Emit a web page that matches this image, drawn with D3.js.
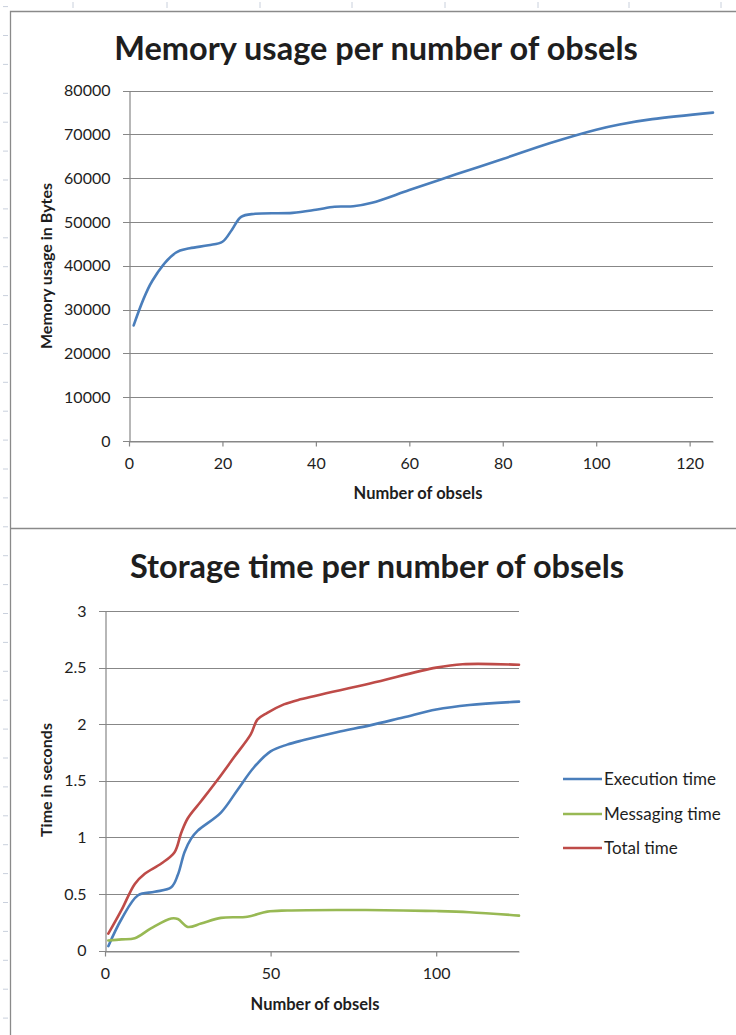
<!DOCTYPE html>
<html><head><meta charset="utf-8">
<script src="https://cdn.jsdelivr.net/npm/d3@7/dist/d3.min.js"></script>
<style>
body{margin:0;background:#fff}
svg{display:block}
text{font-family:Lato,"Open Sans",sans-serif;fill:#1e1e1e}
</style>
</head><body>
<svg id="c" width="736" height="1035"></svg>
<script>
// ---------- data ----------
const memTitle = "Memory usage per number of obsels";
const memYLabel = "Memory usage in Bytes";
const memXTicks = [0, 20, 40, 60, 80, 100, 120];
const memYTicks = [0, 10000, 20000, 30000, 40000, 50000, 60000, 70000, 80000];
const memX = [1, 5, 10, 13, 17, 20, 22, 24, 27, 35, 40, 44, 48, 52, 60, 70, 80, 90, 100, 105, 112, 125];
const memY = [26400, 36600, 43000, 44000, 44700, 45500, 48200, 51200, 51900, 52100, 52800, 53500, 53600, 54400, 57300, 60900, 64400, 68000, 71100, 72300, 73500, 75000];

const timeTitle = "Storage time per number of obsels";
const timeYLabel = "Time in seconds";
const xLabel = "Number of obsels";
const timeXTicks = [0, 50, 100];
const timeYTicks = [0, 0.5, 1, 1.5, 2, 2.5, 3];
const seriesNames = ["Execution time", "Messaging time", "Total time"];
const seriesColors = ["#4a7ebb", "#98b954", "#be4b48"];
const execX = [1, 5, 10, 15, 20, 22, 24, 26, 28, 35, 40, 45, 50, 55, 60, 70, 80, 90, 100, 110, 125];
const execY = [0.04, 0.28, 0.49, 0.52, 0.56, 0.67, 0.87, 0.99, 1.06, 1.22, 1.42, 1.62, 1.76, 1.82, 1.86, 1.93, 1.99, 2.06, 2.13, 2.17, 2.20];
const msgX = [1, 5, 9, 14, 20, 22, 25, 29, 35, 43, 49, 55, 70, 90, 100, 110, 125];
const msgY = [0.09, 0.10, 0.11, 0.20, 0.285, 0.28, 0.21, 0.24, 0.29, 0.30, 0.345, 0.355, 0.36, 0.355, 0.35, 0.34, 0.31];
const totX = [1, 5, 9, 12, 17, 21, 23, 25, 29, 34, 39, 44, 46, 49, 54, 59, 80, 100, 108, 125];
const totY = [0.15, 0.36, 0.59, 0.68, 0.77, 0.87, 1.04, 1.17, 1.32, 1.51, 1.71, 1.91, 2.04, 2.10, 2.175, 2.22, 2.36, 2.50, 2.53, 2.525];

// ---------- drawing ----------
const svg = d3.select("#c");
const W = 736, H = 1035;
const gridCol = "#878787", frameCol = "#8a8a8a", sheetCol = "#c9d0dc";

// spreadsheet background marks
const colMarks = [73, 167, 260, 352, 445, 538, 629, 721];
svg.append("g").selectAll("line").data(colMarks).join("line")
  .attr("x1", d => d).attr("x2", d => d).attr("y1", 2).attr("y2", 8)
  .attr("stroke", sheetCol).attr("stroke-width", 1);
const rowMarks = d3.range(0, 36).map(k => 6.6 + 28.9 * k).filter(y => y < H);
svg.append("g").selectAll("line").data(rowMarks).join("line")
  .attr("x1", 3).attr("x2", 8).attr("y1", d => d).attr("y2", d => d)
  .attr("stroke", sheetCol).attr("stroke-width", 1);

// chart frames
svg.append("path").attr("d", `M736,11.5H10.5V1035 M10.5,528.5H736`)
  .attr("fill", "none").attr("stroke", frameCol).attr("stroke-width", 1.3);

function drawChart(cfg) {
  const g = svg.append("g");
  const x = d3.scaleLinear().domain([0, 125]).range([cfg.left, cfg.right]);
  const y = d3.scaleLinear().domain(cfg.yDomain).range([cfg.bottom, cfg.top]);

  // gridlines (with left tick extension)
  g.append("g").selectAll("line").data(cfg.yTicks).join("line")
    .attr("x1", cfg.left - 6).attr("x2", cfg.right)
    .attr("y1", d => Math.round(y(d)) + 0.5).attr("y2", d => Math.round(y(d)) + 0.5)
    .attr("stroke", gridCol).attr("stroke-width", 1.2);

  // y axis
  const ya = d3.axisLeft(y).tickValues(cfg.yTicks).tickSize(0).tickPadding(cfg.yPad).tickFormat(cfg.yFmt);
  const yg = g.append("g").attr("transform", `translate(${Math.round(cfg.left) + 0.5},0)`).call(ya);
  yg.select(".domain").attr("stroke", gridCol).attr("stroke-width", 1.2);
  yg.selectAll("text").attr("font-size", cfg.tickFont).attr("fill", "#1e1e1e").style("font-family", "Lato");

  // x axis
  const xa = d3.axisBottom(x).tickValues(cfg.xTicks).tickSize(5).tickSizeOuter(0).tickPadding(cfg.xPad).tickFormat(d3.format("d"));
  const xg = g.append("g").attr("transform", `translate(0,${Math.round(cfg.bottom) + 0.5})`).call(xa);
  xg.select(".domain").attr("stroke", gridCol).attr("stroke-width", 1.2);
  xg.selectAll(".tick line").attr("stroke", gridCol).attr("stroke-width", 1.2);
  xg.selectAll("text").attr("font-size", cfg.tickFont).attr("fill", "#1e1e1e").style("font-family", "Lato");

  // series
  const line = d3.line().x(d => x(d[0])).y(d => y(d[1])).curve(d3.curveCatmullRom.alpha(0.5));
  cfg.series.forEach(s => {
    const pts = s.xs.map((v, i) => [v, s.ys[i]]);
    g.append("path").attr("d", line(pts)).attr("fill", "none")
      .attr("stroke", s.color).attr("stroke-width", 2.6).attr("stroke-linejoin", "round").attr("stroke-linecap", "round");
  });

  // titles
  g.append("text").attr("x", cfg.titleX).attr("y", cfg.titleY).attr("text-anchor", "middle")
    .attr("font-size", 32.5).attr("font-weight", 700).attr("fill", "#000").text(cfg.title);
  g.append("text").attr("x", cfg.xLabX).attr("y", cfg.xLabY).attr("text-anchor", "middle")
    .attr("font-size", 16.5).attr("font-weight", 700).attr("fill", "#000").text(xLabel);
  g.append("text").attr("transform", `translate(${cfg.yLabX},${cfg.yLabY}) rotate(-90)`).attr("text-anchor", "middle")
    .attr("font-size", 16).attr("font-weight", 700).attr("fill", "#000").text(cfg.yLabel);
  return {x, y};
}

drawChart({
  left: 129, right: 713, top: 90.7, bottom: 441,
  yDomain: [0, 80000], yTicks: memYTicks, xTicks: memXTicks,
  yFmt: d3.format("d"), yPad: 19, xPad: 11, tickFont: 16,
  series: [{xs: memX, ys: memY, color: seriesColors[0]}],
  title: memTitle, titleX: 376, titleY: 60,
  xLabX: 418, xLabY: 499, yLabX: 52, yLabY: 266, yLabel: memYLabel
});

drawChart({
  left: 105, right: 519, top: 611, bottom: 950.7,
  yDomain: [0, 3], yTicks: timeYTicks, xTicks: timeXTicks,
  yFmt: d => String(d), yPad: 19, xPad: 11, tickFont: 16,
  series: [
    {xs: execX, ys: execY, color: seriesColors[0]},
    {xs: msgX, ys: msgY, color: seriesColors[1]},
    {xs: totX, ys: totY, color: seriesColors[2]}
  ],
  title: timeTitle, titleX: 377, titleY: 578,
  xLabX: 315, xLabY: 1010, yLabX: 52, yLabY: 780, yLabel: timeYLabel
});

// legend
const legY = [779, 814, 848];
const leg = svg.append("g");
seriesNames.forEach((n, i) => {
  leg.append("line").attr("x1", 563).attr("x2", 602).attr("y1", legY[i]).attr("y2", legY[i])
    .attr("stroke", seriesColors[i]).attr("stroke-width", 2.6);
  leg.append("text").attr("x", 604).attr("y", legY[i] + 6).attr("font-size", 17).text(n);
});
</script>
</body></html>
